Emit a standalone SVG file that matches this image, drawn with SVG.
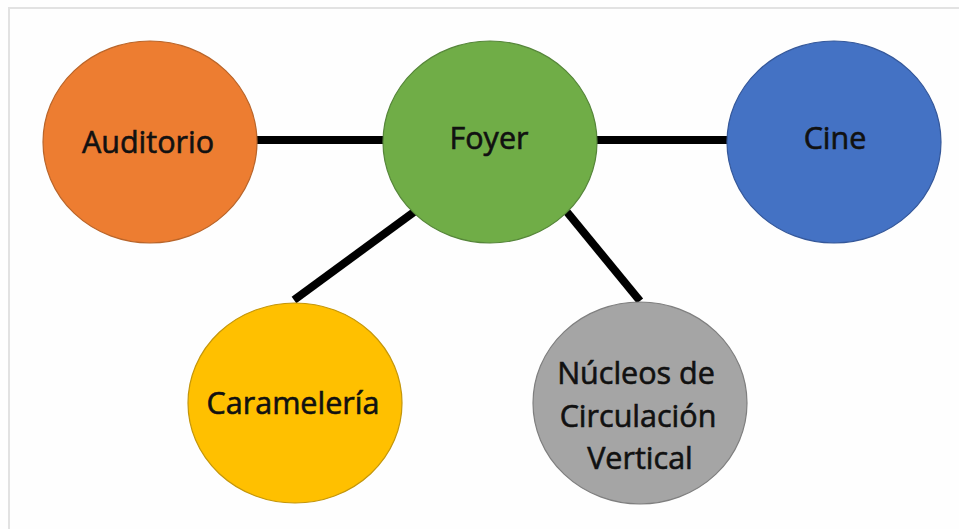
<svg xmlns="http://www.w3.org/2000/svg" width="959" height="529" viewBox="0 0 959 529">
<style>
.frame{fill:none;stroke:#e2e2e2;stroke-width:2}
.node ellipse{stroke-width:1.2}
.node text{font-family:"Open Sans","Noto Sans","Liberation Sans",sans-serif;font-size:30.5px;fill:#111;stroke:#111;stroke-width:0.6;text-anchor:middle}
.edge{stroke:#000;stroke-width:8;stroke-linecap:butt}
</style>
<rect x="0" y="0" width="959" height="529" fill="#fefefe"/>
<path class="frame" d="M9,529 V8 H959"/>
<g id="connectors">
<line class="edge" x1="256" y1="140" x2="386" y2="140"/>
<line class="edge" x1="595" y1="140" x2="730" y2="140"/>
<line class="edge" x1="414" y1="212" x2="294" y2="300"/>
<line class="edge" x1="567" y1="212" x2="640" y2="301"/>
</g>
<g id="auditorio" class="node">
<ellipse cx="150" cy="142" rx="107" ry="101" fill="#ED7D31" stroke="#B9652A"/>
<text x="148" y="153">Auditorio</text>
</g>
<g id="foyer" class="node">
<ellipse cx="490" cy="142" rx="107" ry="101" fill="#70AD47" stroke="#56863A"/>
<text x="489" y="149">Foyer</text>
</g>
<g id="cine" class="node">
<ellipse cx="834" cy="142" rx="107" ry="101" fill="#4472C4" stroke="#35589A"/>
<text x="835" y="149">Cine</text>
</g>
<g id="carameleria" class="node">
<ellipse cx="295" cy="403" rx="107" ry="100" fill="#FFC000" stroke="#C4960A"/>
<text x="293" y="414">Caramelería</text>
</g>
<g id="nucleos" class="node">
<ellipse cx="640" cy="403" rx="107" ry="101" fill="#A5A5A5" stroke="#7F7F7F"/>
<text x="636" y="384">Núcleos de</text>
<text x="638" y="427">Circulación</text>
<text x="640" y="469">Vertical</text>
</g>
</svg>
